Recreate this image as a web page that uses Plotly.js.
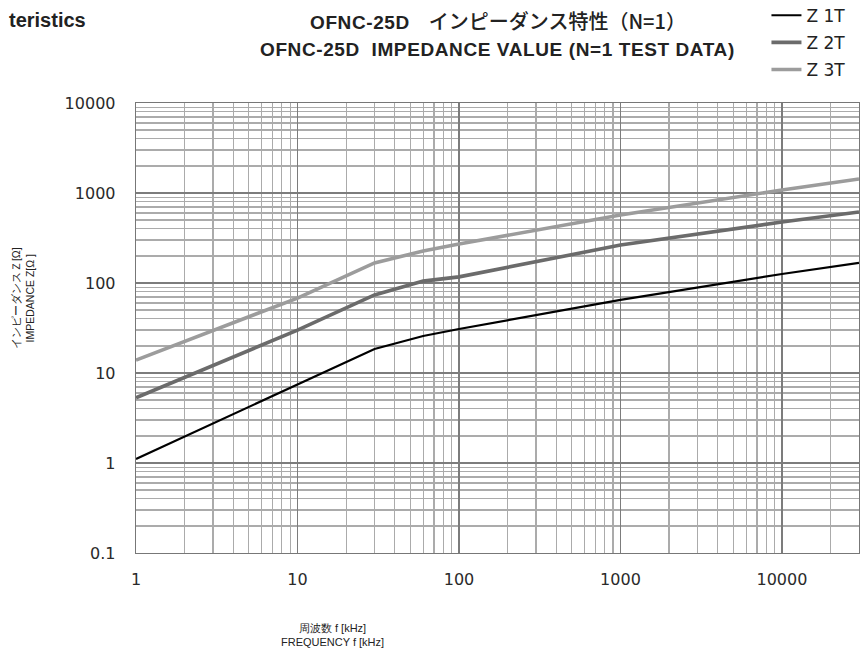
<!DOCTYPE html>
<html>
<head>
<meta charset="utf-8">
<script src="https://cdn.plot.ly/plotly-3.0.1.min.js"></script>
<style>html,body{margin:0;padding:0;background:#fff;}#chart{width:860px;height:653px;}</style>
</head>
<body>
<div id="chart"></div>
<script>
// Data
const frequency = [1, 10, 30, 60, 100, 1000, 10000, 30000];   // kHz
const z1T = [1.11, 7.4, 18.5, 25.8, 30.8, 65, 126, 167];
const z2T = [5.3, 30, 73.6, 105, 117, 264, 476, 615];
const z3T = [13.9, 68, 167, 227, 271, 570, 1080, 1430];
const seriesNames = ['Z 1T', 'Z 2T', 'Z 3T'];

const xTickVals = [1, 10, 100, 1000, 10000];
const xTickText = ['1', '10', '100', '1000', '10000'];
const yTickVals = [0.1, 1, 10, 100, 1000, 10000];
const yTickText = ['0.1', '1', '10', '100', '1000', '10000'];

const titleLine1 = '<span style="letter-spacing:0.6px">OFNC-25D</span>　<span style="font-family:Noto Sans CJK JP;font-weight:500;font-size:20px">インピーダンス特性（N=1）</span>';
const titleLine2 = '<span style="letter-spacing:0.6px">OFNC-25D  IMPEDANCE VALUE (N=1 TEST DATA)</span>';
const cornerText = 'teristics';
const yTitle = 'インピーダンスＺ[Ω]<br>IMPEDANCE Z[Ω ]';
const xTitle = '周波数 f [kHz]<br>FREQUENCY f [kHz]';

const colors = ['#000000', '#6b6b6b', '#9c9c9c'];
const widths = [2.2, 3.6, 3.6];
const values = [z1T, z2T, z3T];

const traces = values.map((v, i) => ({
  x: frequency, y: v, type: 'scatter', mode: 'lines',
  name: seriesNames[i], legendgroup: 'g' + i,
  line: {color: colors[i], width: widths[i]}
}));

const gridMajor = '#7c7c7c';
const gridMinor = '#ababab';
const tickFont = {family: 'DejaVu Sans', size: 16, color: '#2a2a2a'};
const titleFont = {family: 'Liberation Sans, Noto Sans CJK JP', size: 19, color: '#222', weight: 'bold'};

const layout = {
  width: 860, height: 653,
  margin: {l: 136, r: 1, t: 103, b: 100, autoexpand: false},
  paper_bgcolor: '#fff', plot_bgcolor: '#fff',
  showlegend: true,
  legend: {
    x: 0.872, xanchor: 'left', y: 1.234, yanchor: 'top',
    font: {family: 'DejaVu Sans', size: 17, color: '#222'},
    tracegroupgap: 2, traceorder: 'grouped',
    bgcolor: 'rgba(0,0,0,0)', borderwidth: 0
  },
  xaxis: {
    type: 'log', range: [0, Math.log10(30000)],
    tickmode: 'array', tickvals: xTickVals, ticktext: xTickText,
    showgrid: true, gridcolor: gridMajor, gridwidth: 1.3,
    minor: {dtick: 'D1', showgrid: true, gridcolor: gridMinor, gridwidth: 1.2, ticks: ''},
    showline: true, mirror: true, linecolor: '#777', linewidth: 1.3,
    ticks: '', ticklabelstandoff: 11, tickfont: tickFont, zeroline: false
  },
  yaxis: {
    type: 'log', range: [-1, 4],
    tickmode: 'array', tickvals: yTickVals, ticktext: yTickText,
    showgrid: true, gridcolor: gridMajor, gridwidth: 1.3,
    minor: {dtick: 'D1', showgrid: true, gridcolor: gridMinor, gridwidth: 1.2, ticks: ''},
    showline: true, mirror: true, linecolor: '#777', linewidth: 1.3,
    ticks: '', ticklabelstandoff: 16, tickfont: tickFont, zeroline: false
  },
  annotations: [
    {text: titleLine1, xref: 'paper', yref: 'paper', x: 0.5, y: 1.184, xanchor: 'center', yanchor: 'middle', showarrow: false, font: titleFont},
    {text: titleLine2, xref: 'paper', yref: 'paper', x: 0.5, y: 1.118, xanchor: 'center', yanchor: 'middle', showarrow: false, font: titleFont},
    {text: cornerText, xref: 'paper', yref: 'paper', x: -0.067, y: 1.185, xanchor: 'right', yanchor: 'middle', showarrow: false, font: {family: 'Liberation Sans', size: 20, color: '#222', weight: 'bold'}},
    {text: yTitle, xref: 'paper', yref: 'paper', x: -0.156, y: 0.567, xanchor: 'center', yanchor: 'middle', textangle: -90, showarrow: false, font: {family: 'Liberation Sans', size: 10.5, color: '#222'}},
    {text: xTitle, xref: 'paper', yref: 'paper', x: 0.272, y: -0.182, xanchor: 'center', yanchor: 'middle', showarrow: false, font: {family: 'Liberation Sans', size: 11, color: '#222'}}
  ]
};

Plotly.newPlot('chart', traces, layout, {displayModeBar: false, staticPlot: true});
</script>
</body>
</html>
